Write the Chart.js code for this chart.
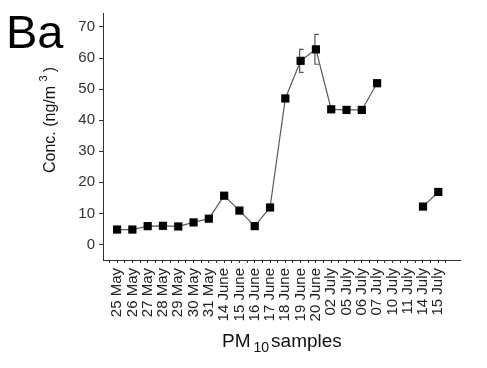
<!DOCTYPE html>
<html>
<head>
<meta charset="utf-8">
<script src="https://cdn.jsdelivr.net/npm/chart.js@4"></script>
<style>
body { margin: 0; background: #fff; }
</style>
</head>
<body>
<canvas id="baChart" width="487" height="368"></canvas>
<script>
const sampleDates = ['25 May', '26 May', '27 May', '28 May', '29 May', '30 May', '31 May',
    '14 June', '15 June', '16 June', '17 June', '18 June', '19 June', '20 June',
    '02 July', '05 July', '06 July', '07 July', '10 July', '11 July', '14 July', '15 July'];
const baConc = [4.8, 4.8, 5.9, 6.0, 5.8, 7.1, 8.3, 15.7, 10.9, 5.9, 11.9, 47.0, 59.1, 62.8,
    43.5, 43.3, 43.3, 51.9, null, null, 12.2, 16.9];
const baErr = [null, null, null, null, null, null, null, null, null, null, null, null, 3.7, 4.8,
    null, null, null, null, null, null, null, null];
const yTicks = [0, 10, 20, 30, 40, 50, 60, 70];

const FONT = "'Liberation Sans', Arial, sans-serif";

// error bars drawn as "[" brackets behind the markers
const errorBars = {
    id: 'errorBars',
    beforeDatasetsDraw(chart) {
        const ctx = chart.ctx;
        const xs = chart.scales.x, ys = chart.scales.y;
        ctx.save();
        ctx.strokeStyle = '#555';
        ctx.lineWidth = 1.2;
        baErr.forEach((e, i) => {
            if (e == null || baConc[i] == null) return;
            const px = xs.getPixelForValue(i) - 1;
            const top = ys.getPixelForValue(baConc[i] + e);
            const bot = ys.getPixelForValue(baConc[i] - e);
            ctx.beginPath();
            ctx.moveTo(px + 4, top);
            ctx.lineTo(px, top);
            ctx.lineTo(px, bot);
            ctx.lineTo(px + 4, bot);
            ctx.stroke();
        });
        ctx.restore();
    }
};

// panel letter and axis titles
const titles = {
    id: 'titles',
    afterDraw(chart) {
        const ctx = chart.ctx;
        ctx.save();
        ctx.fillStyle = '#000';
        ctx.textBaseline = 'alphabetic';
        ctx.font = '47px ' + FONT;
        ctx.fillText('Ba', 6, 48);

        // y title
        ctx.translate(55, 120);
        ctx.rotate(-Math.PI / 2);
        ctx.fillStyle = '#111';
        const main = 'Conc. (ng/m ';
        ctx.font = '16px ' + FONT;
        const w1 = ctx.measureText(main).width;
        ctx.font = '11px ' + FONT;
        const w2 = ctx.measureText('3 ').width;
        ctx.font = '16px ' + FONT;
        const w3 = ctx.measureText(')').width;
        let x0 = -(w1 + w2 + w3) / 2;
        ctx.fillText(main, x0, 0);
        ctx.font = '11px ' + FONT;
        ctx.fillText('3', x0 + w1, -8);
        ctx.font = '16px ' + FONT;
        ctx.fillText(')', x0 + w1 + w2, 0);
        ctx.restore();

        // x title
        ctx.save();
        ctx.fillStyle = '#111';
        ctx.font = '19px ' + FONT;
        ctx.fillText('PM', 222, 347);
        const pmW = ctx.measureText('PM').width;
        ctx.font = '14px ' + FONT;
        ctx.fillText('10', 222 + pmW + 3, 352);
        const subW = ctx.measureText('10').width;
        ctx.font = '19px ' + FONT;
        ctx.fillText('samples', 222 + pmW + subW + 5, 347);
        ctx.restore();
    }
};

new Chart(document.getElementById('baChart'), {
    type: 'line',
    data: {
        datasets: [{
            data: sampleDates.map((d, i) => ({ x: i, y: baConc[i] })),
            borderColor: '#5a5a5a',
            borderWidth: 1.2,
            pointStyle: 'rect',
            pointRadius: 5.8,
            pointBackgroundColor: '#000',
            pointBorderColor: '#000',
            pointBorderWidth: 0,
            spanGaps: false,
            tension: 0
        }]
    },
    options: {
        responsive: false,
        animation: false,
        devicePixelRatio: 1,
        layout: { padding: { top: 10, right: 27, left: 0, bottom: 0 } },
        plugins: { legend: { display: false }, tooltip: { enabled: false } },
        scales: {
            x: {
                type: 'linear',
                min: -0.92,
                max: 22.42,
                afterBuildTicks: scale => {
                    const t = [];
                    for (let v = -0.5; v <= 22; v += 0.5) t.push({ value: v });
                    scale.ticks = t;
                },
                afterFit: scale => { scale.height = 108; },
                border: { display: true, color: '#333', width: 1 },
                grid: { display: true, drawOnChartArea: false, tickLength: 3, color: '#333' },
                ticks: {
                    autoSkip: false,
                    minRotation: 90,
                    maxRotation: 90,
                    padding: 5,
                    color: '#222',
                    font: { family: FONT, size: 15 },
                    callback: v => Number.isInteger(v) ? sampleDates[v] : ''
                }
            },
            y: {
                min: -5,
                max: 74.5,
                afterBuildTicks: scale => { scale.ticks = yTicks.map(v => ({ value: v })); },
                afterFit: scale => { scale.width = 103; },
                border: { display: true, color: '#333', width: 1 },
                grid: { display: true, drawOnChartArea: false, tickLength: 4, color: '#333' },
                ticks: {
                    padding: 4,
                    color: '#333',
                    font: { family: FONT, size: 15 }
                }
            }
        }
    },
    plugins: [errorBars, titles]
});
</script>
</body>
</html>
